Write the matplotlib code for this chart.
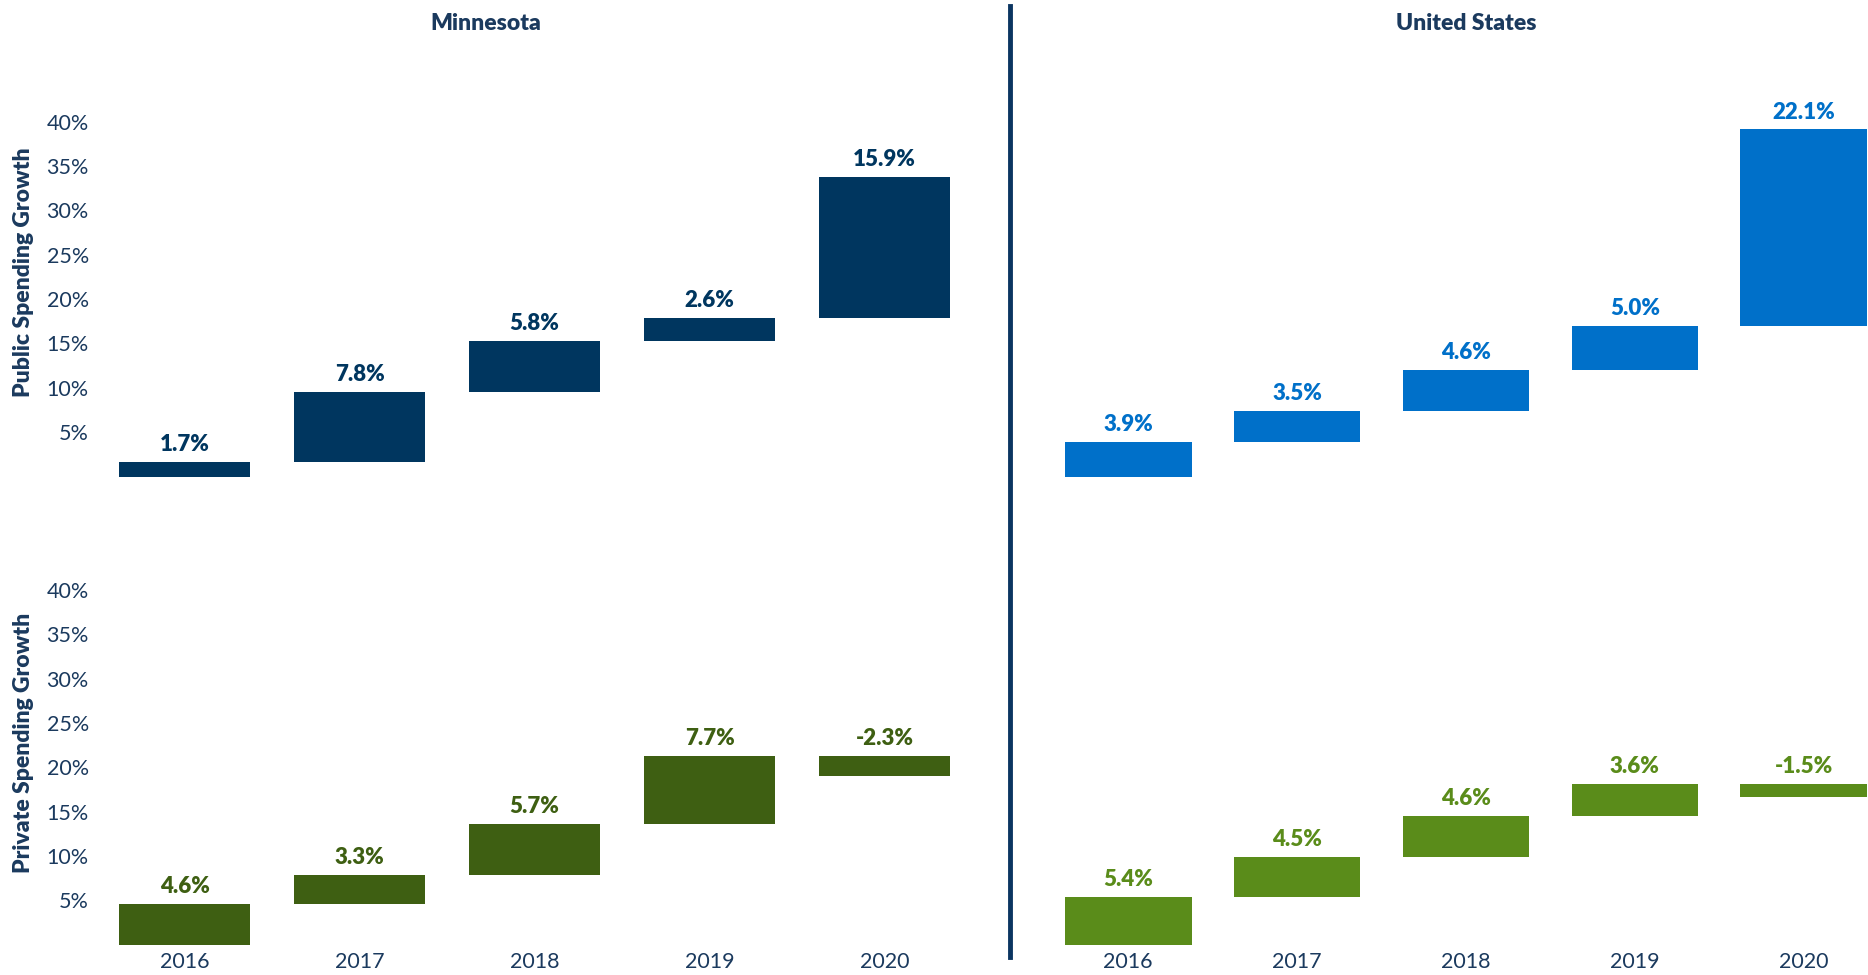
import numpy as np
import matplotlib.pyplot as plt

plt.rcParams['font.family'] = ['Lato', 'DejaVu Sans']

# data
years = ['2016', '2017', '2018', '2019', '2020']
mn_public = [1.7, 7.8, 5.8, 2.6, 15.9]
us_public = [3.9, 3.5, 4.6, 5.0, 22.1]
mn_private = [4.6, 3.3, 5.7, 7.7, -2.3]
us_private = [5.4, 4.5, 4.6, 3.6, -1.5]
yticks = [5, 10, 15, 20, 25, 30, 35, 40]

navy = '#1B3A5E'
c_mn_pub = '#00365F'
c_us_pub = '#0070C9'
c_mn_pri = '#3E5F12'
c_us_pri = '#5A8C1A'

W, H = 1868, 975
fig = plt.figure(figsize=(W / 100, H / 100), dpi=100)


def px_axes(x0, x1, ytop, ybot):
    return fig.add_axes([x0 / W, 1 - ybot / H, (x1 - x0) / W, (ybot - ytop) / H])


def waterfall(ax, vals, color):
    vals = np.array(vals)
    cum = np.cumsum(vals)
    prev = cum - vals
    x = np.arange(len(vals))
    ax.bar(x, vals, bottom=prev, width=0.75, color=color, linewidth=0)
    for xi, p, c, v in zip(x, prev, cum, vals):
        ax.annotate(f'{v:.1f}%', (xi, max(p, c)), xytext=(0, 5), textcoords='offset points',
                    ha='center', va='bottom', fontsize=16, fontweight='heavy', color=color,
                    annotation_clip=False)


def style(ax, show_y, show_x):
    for s in ax.spines.values():
        s.set_visible(False)
    ax.set_ylim(0, 40)
    ax.set_yticks(yticks)
    if show_y:
        ax.set_yticklabels([f'{t}%' for t in yticks])
    else:
        ax.set_yticklabels([])
    ax.set_xticks(range(len(years)))
    if show_x:
        ax.set_xticklabels(years)
    else:
        ax.set_xticklabels([])
    ax.tick_params(length=0, labelsize=15.5, labelcolor=navy, pad=3)
    ax.tick_params(axis='x', pad=5)


top_y = (121.5, 476.6)
bot_y = (590, 944.7)

ax1 = px_axes(93, 1010, *top_y)
ax2 = px_axes(1010, 1868, *top_y)
ax3 = px_axes(93, 1010, *bot_y)
ax4 = px_axes(1010, 1868, *bot_y)

waterfall(ax1, mn_public, c_mn_pub)
waterfall(ax2, us_public, c_us_pub)
waterfall(ax3, mn_private, c_mn_pri)
waterfall(ax4, us_private, c_us_pri)

for ax in (ax1, ax3):
    ax.set_xlim(-0.523, 4.716)
for ax in (ax2, ax4):
    ax.set_xlim(-0.70, 4.38)

style(ax1, True, False)
style(ax2, False, False)
style(ax3, True, True)
style(ax4, False, True)

fig.text(486 / W, 1 - 24 / H, 'Minnesota', ha='center', va='center',
         fontsize=16.5, fontweight='heavy', color=navy)
fig.text(1466 / W, 1 - 24 / H, 'United States', ha='center', va='center',
         fontsize=16.5, fontweight='heavy', color=navy)
fig.text(24 / W, 1 - 272 / H, 'Public Spending Growth', rotation=90, ha='center', va='center',
         fontsize=16.5, fontweight='heavy', color=navy)
fig.text(24 / W, 1 - 743 / H, 'Private Spending Growth', rotation=90, ha='center', va='center',
         fontsize=16.5, fontweight='heavy', color=navy)

# divider between the two regions
fig.add_artist(plt.Line2D([1010 / W, 1010 / W], [1 - 6 / H, 1 - 957 / H],
                          color='#0B3561', linewidth=3.5, transform=fig.transFigure))

fig.savefig('out.png', dpi=100)
